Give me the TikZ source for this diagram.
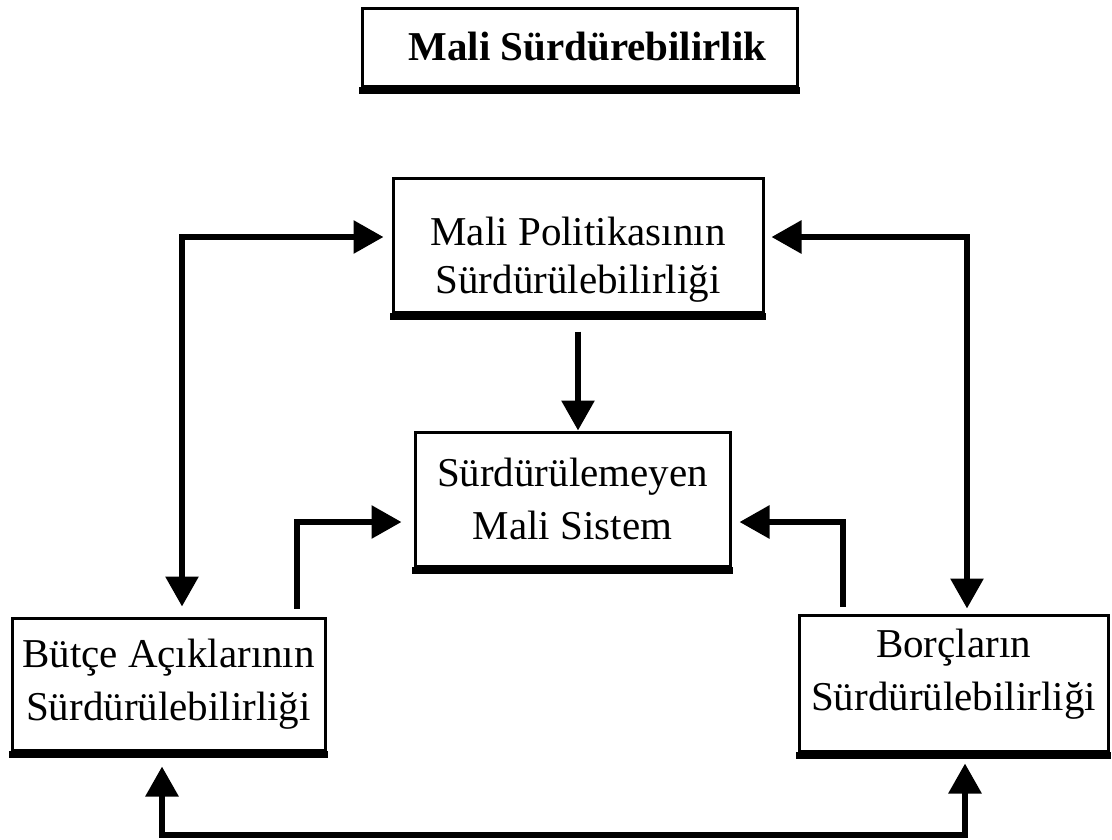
\documentclass[tikz,border=0pt]{standalone}
\usepackage{fontspec}
\setmainfont{Liberation Serif}
\usetikzlibrary{arrows.meta, calc}

\begin{document}
\begin{tikzpicture}[
  x=1pt, y=-1pt,
  font=\fontsize{41}{53}\selectfont,
  box/.style={draw, line width=3pt, fill=white, inner sep=0pt, align=center,
              append after command={([xshift=-1.5pt,yshift=-2.5pt]\tikzlastnode.south west)
                edge[line width=7pt] ([xshift=1.5pt,yshift=-2.5pt]\tikzlastnode.south east)}},
  a/.style={-{Triangle[length=30pt,width=32pt]}, line width=6pt},
  both/.style={{Triangle[length=30pt,width=32pt]}-{Triangle[length=30pt,width=32pt]}, line width=6pt}
]
\useasboundingbox (0,0) rectangle (1112,839);
\node[box, minimum width=435pt, minimum height=78pt, font=\bfseries\fontsize{41}{53}\selectfont] (title) at (579.5,47) {\hspace*{16pt}Mali Sürdürebilirlik};
\node[box, minimum width=370pt, minimum height=134pt, font=\fontsize{41}{48}\selectfont, text height=106pt] (policy) at (578,245) {Mali Politikasının\\Sürdürülebilirliği};
\node[box, minimum width=315pt, minimum height=134pt] (system) at (572.5,499) {Sürdürülemeyen\\Mali Sistem};
\node[box, minimum width=313pt, minimum height=132pt] (budget) at (168.5,684) {Bütçe Açıklarının\\Sürdürülebilirliği};
\node[box, minimum width=309pt, minimum height=136pt, text depth=26pt] (debt) at (953.5,683) {Borçların\\Sürdürülebilirliği};
\coordinate (floor) at (560,835);
\draw[both, shorten <=10pt, shorten >=8pt] ([xshift=13.5pt]budget.north) |- ([yshift=8pt]policy.west);
\draw[both, shorten <=7pt, shorten >=5pt] ([yshift=8pt]policy.east) -| ([xshift=13.5pt]debt.north);
\draw[a, shorten <=18pt] (policy.south) -- (policy.south |- system.north);
\draw[a, shorten <=8pt, shorten >=12pt] ([xshift=128.5pt]budget.north) |- ([yshift=-23pt]system.west);
\draw[a, shorten <=7pt, shorten >=8pt] ([xshift=-110.5pt]debt.north) |- ([yshift=-23pt]system.east);
\draw[both, shorten <=15pt, shorten >=11pt] ([xshift=-6.5pt]budget.south) |- (floor) -| ([xshift=11.5pt]debt.south);
\end{tikzpicture}
\end{document}
